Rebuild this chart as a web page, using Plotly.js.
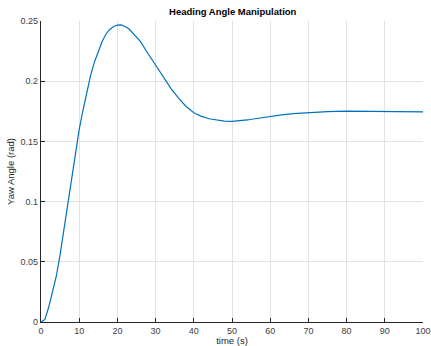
<!DOCTYPE html>
<html><head><meta charset="utf-8">
<script src="https://cdn.plot.ly/plotly-3.0.1.min.js"></script>
<style>html,body{margin:0;padding:0;background:#fff}#chart{width:431px;height:346px}</style>
</head><body><div id="chart"></div>
<script>
const timeS = [0,1,2,3,4,5,6,7,8,9,10,11,12,13,14,15,16,17,18,19,20,21,22,23,24,25,26,28,30,32,34,36,38,40,42,44,46,48,50,52,54,56,58,60,63,66,70,75,80,85,90,95,100];
const yawRad = [0,0.002,0.012,0.024,0.038,0.056,0.077,0.099,0.120,0.141,0.160,0.176,0.191,0.205,0.216,0.225,0.233,0.239,0.243,0.2455,0.2465,0.2467,0.2455,0.2435,0.240,0.2365,0.233,0.223,0.213,0.203,0.194,0.186,0.179,0.1738,0.1708,0.1688,0.1676,0.1669,0.1667,0.1670,0.1678,0.1688,0.1698,0.1708,0.1721,0.1731,0.1741,0.1748,0.1751,0.1751,0.1749,0.1747,0.1745];
const xTicks = [0,10,20,30,40,50,60,70,80,90,100];
const yTicks = [0,0.05,0.1,0.15,0.2,0.25];
const yTickText = ['0','0.05','0.1','0.15','0.2','0.25'];

const axisCommon = {
  showline:true, linecolor:'#262626', linewidth:1.2, mirror:false,
  ticks:'inside', ticklen:4, tickcolor:'#262626', tickwidth:1,
  showgrid:true, gridcolor:'#e3e3e3', gridwidth:1, zeroline:false,
  tickfont:{family:'Liberation Sans, Arial, sans-serif', size:9, color:'#404040'}
};
Plotly.newPlot('chart', [{
  x: timeS, y: yawRad, type:'scatter', mode:'lines',
  line:{color:'#0072BD', width:1.2}, hoverinfo:'skip'
}], {
  width:431, height:346,
  margin:{l:41, r:8, t:21, b:24},
  paper_bgcolor:'#fff', plot_bgcolor:'#fff',
  showlegend:false,
  title:{text:'<b>Heading Angle Manipulation</b>', x:0.54, xanchor:'center', y:0.965, yanchor:'middle',
    font:{family:'Liberation Sans, Arial, sans-serif', size:9.5, color:'#000'}},
  xaxis: Object.assign({}, axisCommon, {range:[0,100], tickvals:xTicks, ticktext:xTicks.map(String), automargin:false,
    title:{text:'time (s)', standoff:3, font:{family:'Liberation Sans, Arial, sans-serif', size:9.5, color:'#262626'}}}),
  yaxis: Object.assign({}, axisCommon, {range:[0,0.25], tickvals:yTicks, ticktext:yTickText, automargin:false,
    title:{text:'Yaw Angle (rad)', standoff:4, font:{family:'Liberation Sans, Arial, sans-serif', size:9.5, color:'#262626'}}})
}, {staticPlot:true, displayModeBar:false});
</script></body></html>
